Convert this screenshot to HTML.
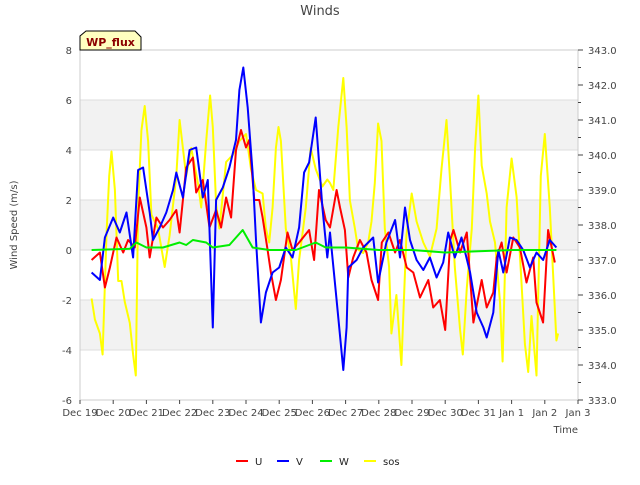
<!DOCTYPE html>
<html><head><meta charset="utf-8"><style>
body{margin:0;background:#fff;font-family:"Liberation Sans","DejaVu Sans",sans-serif}
svg text{font-family:"DejaVu Sans","Liberation Sans",sans-serif}
</style></head><body>
<svg id="chart" width="640" height="480" xmlns="http://www.w3.org/2000/svg">
<rect x="0" y="0" width="640" height="480" fill="#fff"/>
<g id="bands"></g><g id="grid"></g>
<rect x="80" y="50" width="498" height="350" fill="none" stroke="#ccc"/>
<g id="series"></g><g id="axes"></g>
<text x="320" y="15" text-anchor="middle" font-size="13" fill="#444">Winds</text>
<text transform="translate(17,225) rotate(-90)" text-anchor="middle" font-size="10" fill="#444">Wind Speed (m/s)</text>
<text x="578" y="433" text-anchor="end" font-size="10" fill="#444">Time</text>
<g>
<path d="M80,50 L80,36 L86,31 L135,31 L141,37 L141,50 Z" fill="#ffffc0" stroke="#000"/>
<text x="110.5" y="46" text-anchor="middle" font-size="11" font-weight="bold" fill="#8b0000">WP_flux</text>
</g>
<g id="legend"></g>
</svg>
<script>
const uT=[0.35,0.6,0.75,0.9,1.1,1.3,1.45,1.65,1.8,2.0,2.1,2.3,2.5,2.7,2.9,3.0,3.2,3.4,3.5,3.7,3.9,4.1,4.25,4.4,4.55,4.7,4.85,5.0,5.1,5.25,5.4,5.5,5.65,5.75,5.9,6.05,6.25,6.4,6.6,6.9,7.05,7.2,7.4,7.53,7.73,7.83,7.98,8.08,8.23,8.43,8.63,8.78,8.98,9.09,9.29,9.49,9.64,9.84,10.04,10.24,10.49,10.64,10.84,11.0,11.15,11.25,11.45,11.65,11.85,12.1,12.25,12.45,12.55,12.7,12.85,13.05,13.25,13.45,13.65,13.75,13.95,14.1,14.3];
const uV=[-0.4,-0.1,-1.5,-0.7,0.5,-0.1,0.4,0.1,2.1,0.9,-0.3,1.3,0.9,1.2,1.6,0.7,3.3,3.7,2.3,2.8,0.9,1.6,0.9,2.1,1.3,4.0,4.8,4.1,4.4,2.0,2.0,1.3,0,-0.9,-2.0,-1.2,0.7,0,0.3,0.8,-0.4,2.4,1.2,0.9,2.4,1.7,0.8,-1.1,-0.3,0.4,-0.1,-1.2,-2.0,0.3,0.7,-0.1,0.4,-0.7,-0.9,-1.9,-1.2,-2.3,-2.0,-3.2,0.4,0.8,-0.1,0.7,-2.9,-1.2,-2.3,-1.7,-0.3,0.3,-0.9,0.5,0.1,-1.3,-0.3,-2.1,-2.9,0.8,-0.5];
const vT=[0.35,0.6,0.75,1.0,1.2,1.4,1.6,1.75,1.9,2.1,2.2,2.4,2.6,2.8,2.9,3.1,3.3,3.5,3.7,3.85,4.0,4.1,4.3,4.5,4.7,4.8,4.92,5.05,5.2,5.3,5.45,5.6,5.8,6.0,6.2,6.4,6.6,6.75,6.9,7.1,7.3,7.45,7.53,7.73,7.93,8.03,8.08,8.33,8.53,8.83,8.98,9.23,9.49,9.64,9.79,9.94,10.14,10.34,10.54,10.74,10.94,11.09,11.29,11.49,11.75,11.95,12.15,12.25,12.45,12.6,12.75,12.95,13.15,13.35,13.55,13.75,13.95,14.15,14.35];
const vV=[-0.9,-1.2,0.5,1.3,0.7,1.5,-0.3,3.2,3.3,1.5,0.4,0.9,1.5,2.4,3.1,2.1,4.0,4.1,2.1,2.8,-3.1,2.0,2.5,3.3,4.4,6.4,7.3,5.7,3.1,0.4,-2.9,-1.7,-0.9,-0.7,0.1,-0.3,0.9,3.1,3.5,5.3,1.7,-0.3,0.7,-2.0,-4.8,-3.1,-0.7,-0.4,0.1,0.5,-1.3,0.3,1.2,-0.3,1.7,0.4,-0.4,-0.8,-0.3,-1.1,-0.5,0.7,-0.3,0.5,-0.9,-2.5,-3.1,-3.5,-2.5,0,-0.9,0.5,0.4,0,-0.7,-0.1,-0.4,0.4,0.1];
const wT=[0.35,1.5,1.7,2.0,2.5,3.0,3.2,3.4,3.8,4.0,4.5,4.9,5.2,5.7,6.5,6.9,7.1,7.4,8,9,10,11,12,13,14.35];
const wV=[0,0.05,0.3,0.1,0.1,0.3,0.2,0.4,0.3,0.1,0.2,0.8,0.1,0,0,0.2,0.3,0.1,0.1,0,0,-0.1,-0.05,0,0];
const sT=[0.35,0.45,0.6,0.68,0.8,0.88,0.95,1.05,1.15,1.25,1.35,1.5,1.6,1.68,1.75,1.85,1.95,2.05,2.15,2.35,2.55,2.7,2.9,3.0,3.2,3.35,3.55,3.65,3.8,3.92,4.0,4.1,4.2,4.4,4.6,4.8,5.0,5.15,5.3,5.5,5.6,5.7,5.8,5.9,5.98,6.05,6.2,6.35,6.5,6.6,6.8,6.95,7.1,7.3,7.45,7.53,7.63,7.78,7.93,8.03,8.13,8.28,8.38,8.53,8.68,8.78,8.88,8.98,9.08,9.18,9.31,9.38,9.53,9.68,9.83,9.99,10.14,10.34,10.54,10.74,10.89,11.04,11.14,11.29,11.45,11.53,11.65,11.8,11.9,12.0,12.1,12.25,12.35,12.5,12.65,12.73,12.85,13.0,13.15,13.3,13.4,13.5,13.6,13.75,13.88,14.0,14.15,14.25,14.35,14.4];
const sV=[335.9,335.3,334.9,334.3,337.8,339.4,340.1,339.0,336.4,336.4,335.8,335.2,334.3,333.7,338.5,340.7,341.4,340.4,338.3,337.9,336.8,337.7,339.4,341.0,339.4,340.2,339.2,338.5,340.4,341.7,340.8,338.6,337.9,339.8,340.0,340.4,340.6,339.6,339.0,338.9,337.9,337.5,338.5,340.2,340.8,340.4,337.9,337.1,335.6,337.0,338.5,340.2,339.6,339.1,339.3,339.2,339.0,340.8,342.2,340.8,338.7,337.9,337.3,337.2,337.5,338.1,339.2,340.9,340.4,337.9,336.8,334.9,336.0,334.0,337.7,338.9,338.1,337.5,337.1,337.9,339.6,341.0,339.4,336.8,335.0,334.3,336.2,337.9,340.2,341.7,339.7,338.9,338.1,337.5,335.8,334.1,338.5,339.9,338.8,336.3,334.6,333.8,335.4,333.7,339.4,340.6,338.5,336.6,334.7,334.9];
const xLabels=["Dec 19","Dec 20","Dec 21","Dec 22","Dec 23","Dec 24","Dec 25","Dec 26","Dec 27","Dec 28","Dec 29","Dec 30","Dec 31","Jan 1","Jan 2","Jan 3"];
const yTicks=[-6,-4,-2,0,2,4,6,8];
const y2Ticks=[333,334,335,336,337,338,339,340,341,342,343];

const NS="http://www.w3.org/2000/svg";
const X0=80,X1=578,Y0=50,Y1=400;
const xs=t=>X0+t*(X1-X0)/15;
const ys=v=>Y1-(v+6)*(Y1-Y0)/14;
const ys2=v=>Y1-(v-333)*(Y1-Y0)/10;
function mk(tag,attrs,parent){const e=document.createElementNS(NS,tag);for(const k in attrs)e.setAttribute(k,attrs[k]);parent.appendChild(e);return e;}
const bands=document.getElementById('bands'),grid=document.getElementById('grid'),axes=document.getElementById('axes'),ser=document.getElementById('series'),leg=document.getElementById('legend');
[[6,4],[2,0],[-2,-4]].forEach(b=>{const r=mk('rect',{x:X0,y:ys(b[0]),width:X1-X0,height:ys(b[1])-ys(b[0]),fill:'#f2f2f2'},bands);

});
yTicks.forEach(v=>{const l=mk('line',{x1:X0,x2:X1,y1:ys(v),y2:ys(v),stroke:'#ddd'},grid);


const t=mk('text',{x:X0-8,y:ys(v)+4,'text-anchor':'end','font-size':10,fill:'#444'},axes);t.textContent=v;

});
y2Ticks.forEach(v=>{const t=mk('text',{x:X1+10,y:ys2(v)+4,'font-size':10,fill:'#444'},axes);t.textContent=v.toFixed(1);


mk('line',{x1:X1,x2:X1+5,y1:ys2(v),y2:ys2(v),stroke:'#444'},axes);
if(v<343)mk('line',{x1:X1,x2:X1+3,y1:ys2(v+0.5),y2:ys2(v+0.5),stroke:'#444'},axes);});
xLabels.forEach((s,i)=>{mk('line',{x1:xs(i),x2:xs(i),y1:Y1,y2:Y1+4,stroke:'#444'},axes);
const t=mk('text',{x:xs(i),y:Y1+16,'text-anchor':'middle','font-size':10,fill:'#444'},axes);t.textContent=s;

});
function line(T,V,f,col,name){const d=T.map((t,i)=>(i?'L':'M')+xs(t).toFixed(1)+','+f(V[i]).toFixed(1)).join('');
const p=mk('path',{d:d,fill:'none',stroke:col,'stroke-width':2,'stroke-linejoin':'round'},ser);

}
line(sT,sV,ys2,'#ffff00','series-sos');
line(uT,uV,ys,'#ff0000','series-u');
line(vT,vV,ys,'#0000ff','series-v');
line(wT,wV,ys,'#00ee00','series-w');
[['U','#ff0000',236],['V','#0000ff',277],['W','#00ee00',320],['sos','#ffff00',364]].forEach(e=>{
const g=mk('g',{},leg);


mk('line',{x1:e[2],x2:e[2]+12,y1:461,y2:461,stroke:e[1],'stroke-width':2},g);
const t=mk('text',{x:e[2]+19,y:465,'font-size':10,fill:'#222'},g);t.textContent=e[0];});
</script>
</body></html>
